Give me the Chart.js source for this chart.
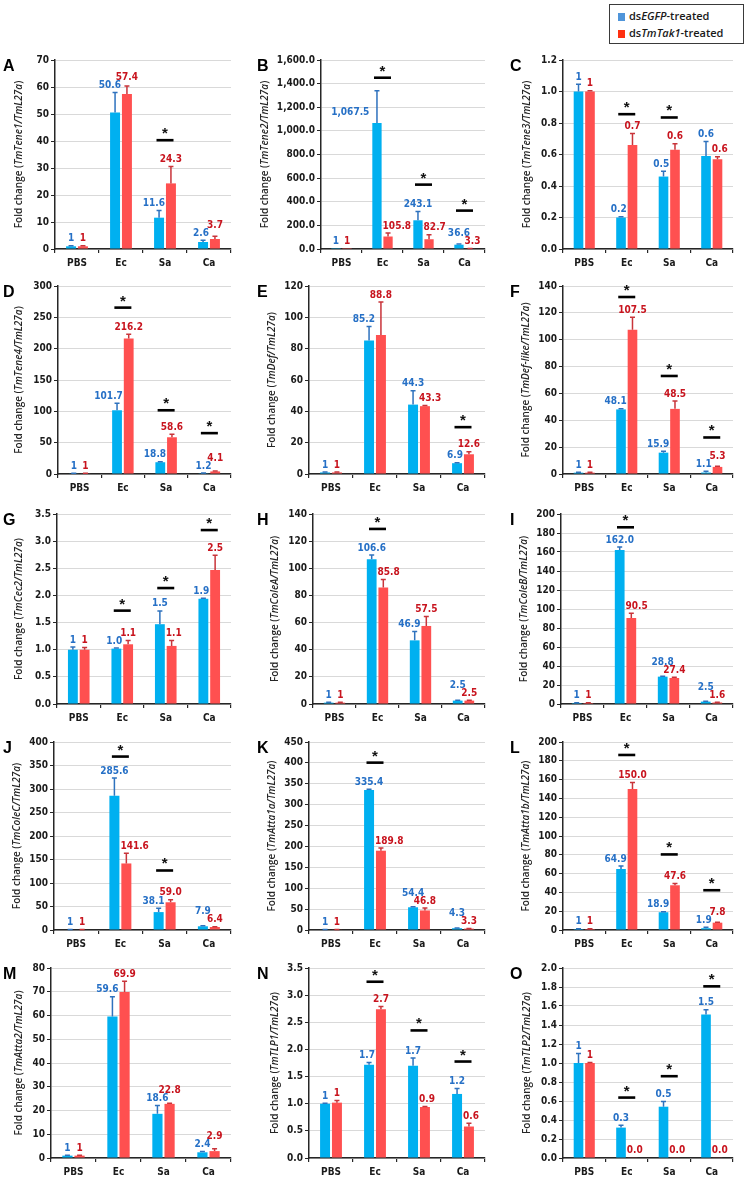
<!DOCTYPE html>
<html>
<head>
<meta charset="utf-8">
<script src="https://cdn.jsdelivr.net/npm/chart.js@4.4.1/dist/chart.umd.min.js"></script>
<style>
    body { margin: 0; background: #fff; }
    #fig { position: relative; width: 745px; height: 1181px; overflow: hidden; background: #fff; }
    #fig canvas { position: absolute; }
    #legend {
        position: absolute; left: 609px; top: 4px; width: 133px; height: 38px;
        border: 1px solid #3a3a3a; background: #fff;
        font-family: 'Open Sans', sans-serif; font-weight: 600; font-size: 11px; color: #1a1a1a;
    }
    #legend .item { position: absolute; left: 8px; height: 14px; line-height: 14px; white-space: nowrap; }
    #legend .sw { display: inline-block; width: 7px; height: 8px; margin-right: 4px; vertical-align: -1px; }
</style>
</head>
<body>
<div id="fig">
    <div id="legend">
        <div class="item" style="top:4px"><span class="sw" style="background:#4F95DA"></span>ds<i>EGFP</i>-treated</div>
        <div class="item" style="top:21px"><span class="sw" style="background:#FF3010"></span>ds<i>TmTak1</i>-treated</div>
    </div>
</div>
<script>
/* ── Data ─────────────────────────────────────────────────── */
const CATEGORIES = ['PBS', 'Ec', 'Sa', 'Ca'];

// [min, max, step] of each y axis
const A_AXIS = [0, 70, 10];
const A_EGFP = [1, 50.6, 11.6, 2.6];
const A_EGFP_ERR = [0.2, 7.4, 2.7, 0.6];
const A_TAK1 = [1, 57.4, 24.3, 3.7];
const A_TAK1_ERR = [0.2, 3.0, 6.3, 1.0];
const A_SIG = [null, null, 40.3, null];

const B_AXIS = [0, 1600, 200];
const B_EGFP = [1, 1067.5, 243.1, 36.6];
const B_EGFP_ERR = [0, 273, 75, 6];
const B_TAK1 = [1, 105.8, 82.7, 3.3];
const B_TAK1_ERR = [0, 29, 38, 1];
const B_SIG = [null, 1450, 545, 325];

const C_AXIS = [0, 1.2, 0.2];
const C_EGFP = [1, 0.2, 0.46, 0.59];
const C_EGFP_ERR = [0.046, 0.004, 0.034, 0.093];
const C_TAK1 = [1, 0.66, 0.63, 0.57];
const C_TAK1_ERR = [0.004, 0.074, 0.038, 0.016];
const C_SIG = [null, 0.856, 0.835, null];

const D_AXIS = [0, 300, 50];
const D_EGFP = [1, 101.7, 18.8, 1.2];
const D_EGFP_ERR = [0.3, 11, 0.8, 0.3];
const D_TAK1 = [1, 216.2, 58.6, 4.1];
const D_TAK1_ERR = [0.3, 7, 5, 0.5];
const D_SIG = [null, 265.5, 101.7, 65.2];

const E_AXIS = [0, 120, 20];
const E_EGFP = [1, 85.2, 44.3, 6.9];
const E_EGFP_ERR = [0.2, 8.9, 8.9, 0.3];
const E_TAK1 = [1, 88.8, 43.3, 12.6];
const E_TAK1_ERR = [0.3, 21, 0.5, 1.6];
const E_SIG = [null, null, null, 29.9];

const F_AXIS = [0, 140, 20];
const F_EGFP = [1, 48.1, 15.9, 1.1];
const F_EGFP_ERR = [0.3, 0.5, 1, 1];
const F_TAK1 = [1, 107.5, 48.5, 5.3];
const F_TAK1_ERR = [0.3, 9.2, 5.9, 0.4];
const F_SIG = [null, 131.8, 73, 27.2];

const G_AXIS = [0, 3.5, 0.5];
const G_EGFP = [1, 1.02, 1.47, 1.94];
const G_EGFP_ERR = [0.05, 0.01, 0.245, 0.01];
const G_TAK1 = [1, 1.1, 1.07, 2.47];
const G_TAK1_ERR = [0.04, 0.07, 0.1, 0.27];
const G_SIG = [null, 1.72, 2.136, 3.204];

const H_AXIS = [0, 140, 20];
const H_EGFP = [1, 106.6, 46.9, 2.5];
const H_EGFP_ERR = [0.3, 3.1, 6.6, 0.3];
const H_TAK1 = [1, 85.8, 57.5, 2.5];
const H_TAK1_ERR = [0.3, 6, 7, 0.3];
const H_SIG = [null, 129, null, null];

const I_AXIS = [0, 200, 20];
const I_EGFP = [1, 162.0, 28.8, 2.5];
const I_EGFP_ERR = [0.3, 3.3, 0.5, 0.5];
const I_TAK1 = [1, 90.5, 27.4, 1.6];
const I_TAK1_ERR = [0.3, 5, 0.8, 0.3];
const I_SIG = [null, 186, null, null];

const J_AXIS = [0, 400, 50];
const J_EGFP = [1, 285.6, 38.1, 7.9];
const J_EGFP_ERR = [0.3, 37.6, 8, 1];
const J_TAK1 = [1, 141.6, 59.0, 6.4];
const J_TAK1_ERR = [0.3, 21.8, 5.4, 0.5];
const J_SIG = [null, 369, 126.6, null];

const K_AXIS = [0, 450, 50];
const K_EGFP = [1, 335.4, 54.4, 4.3];
const K_EGFP_ERR = [0.3, 1.5, 1, 0.5];
const K_TAK1 = [1, 189.8, 46.8, 3.3];
const K_TAK1_ERR = [0.3, 6.5, 5.7, 0.5];
const K_SIG = [null, 400.6, null, null];

const L_AXIS = [0, 200, 20];
const L_EGFP = [1, 64.9, 18.9, 1.9];
const L_EGFP_ERR = [0.3, 3.2, 0.5, 1];
const L_TAK1 = [1, 150.0, 47.6, 7.8];
const L_TAK1_ERR = [0.3, 7, 2, 0.5];
const L_SIG = [null, 186.2, 80.4, 42.3];

const M_AXIS = [0, 80, 10];
const M_EGFP = [1, 59.6, 18.6, 2.4];
const M_EGFP_ERR = [0.2, 8.3, 3.5, 0.3];
const M_TAK1 = [1, 69.9, 22.8, 2.9];
const M_TAK1_ERR = [0.2, 4.5, 0.3, 1];
const M_SIG = [null, null, null, null];

const N_AXIS = [0, 3.5, 0.5];
const N_EGFP = [1, 1.72, 1.7, 1.18];
const N_EGFP_ERR = [0.01, 0.04, 0.14, 0.1];
const N_TAK1 = [1.02, 2.74, 0.94, 0.58];
const N_TAK1_ERR = [0.04, 0.05, 0.01, 0.06];
const N_SIG = [null, 3.247, 2.35, 1.777];

const O_AXIS = [0, 2.0, 0.2];
const O_EGFP = [1, 0.32, 0.54, 1.51];
const O_EGFP_ERR = [0.1, 0.025, 0.055, 0.05];
const O_TAK1 = [1, 0.004, 0.004, 0.004];
const O_TAK1_ERR = [0.005, 0, 0, 0];
const O_SIG = [null, 0.636, 0.861, 1.807];

const PANELS = [
    { id: 'A', gene: 'Tene1',    fmt: 'int',  axis: A_AXIS, egfp: A_EGFP, egfpErr: A_EGFP_ERR, tak: A_TAK1, takErr: A_TAK1_ERR, sig: A_SIG },
    { id: 'B', gene: 'Tene2',    fmt: 'thou', axis: B_AXIS, egfp: B_EGFP, egfpErr: B_EGFP_ERR, tak: B_TAK1, takErr: B_TAK1_ERR, sig: B_SIG },
    { id: 'C', gene: 'Tene3',    fmt: 'dec',  axis: C_AXIS, egfp: C_EGFP, egfpErr: C_EGFP_ERR, tak: C_TAK1, takErr: C_TAK1_ERR, sig: C_SIG },
    { id: 'D', gene: 'Tene4',    fmt: 'int',  axis: D_AXIS, egfp: D_EGFP, egfpErr: D_EGFP_ERR, tak: D_TAK1, takErr: D_TAK1_ERR, sig: D_SIG },
    { id: 'E', gene: 'Def',      fmt: 'int',  axis: E_AXIS, egfp: E_EGFP, egfpErr: E_EGFP_ERR, tak: E_TAK1, takErr: E_TAK1_ERR, sig: E_SIG },
    { id: 'F', gene: 'Def-like', fmt: 'int',  axis: F_AXIS, egfp: F_EGFP, egfpErr: F_EGFP_ERR, tak: F_TAK1, takErr: F_TAK1_ERR, sig: F_SIG },
    { id: 'G', gene: 'Cec2',     fmt: 'dec',  axis: G_AXIS, egfp: G_EGFP, egfpErr: G_EGFP_ERR, tak: G_TAK1, takErr: G_TAK1_ERR, sig: G_SIG },
    { id: 'H', gene: 'ColeA',    fmt: 'int',  axis: H_AXIS, egfp: H_EGFP, egfpErr: H_EGFP_ERR, tak: H_TAK1, takErr: H_TAK1_ERR, sig: H_SIG },
    { id: 'I', gene: 'ColeB',    fmt: 'int',  axis: I_AXIS, egfp: I_EGFP, egfpErr: I_EGFP_ERR, tak: I_TAK1, takErr: I_TAK1_ERR, sig: I_SIG },
    { id: 'J', gene: 'ColeC',    fmt: 'int',  axis: J_AXIS, egfp: J_EGFP, egfpErr: J_EGFP_ERR, tak: J_TAK1, takErr: J_TAK1_ERR, sig: J_SIG },
    { id: 'K', gene: 'Atta1a',   fmt: 'int',  axis: K_AXIS, egfp: K_EGFP, egfpErr: K_EGFP_ERR, tak: K_TAK1, takErr: K_TAK1_ERR, sig: K_SIG },
    { id: 'L', gene: 'Atta1b',   fmt: 'int',  axis: L_AXIS, egfp: L_EGFP, egfpErr: L_EGFP_ERR, tak: L_TAK1, takErr: L_TAK1_ERR, sig: L_SIG },
    { id: 'M', gene: 'Atta2',    fmt: 'int',  axis: M_AXIS, egfp: M_EGFP, egfpErr: M_EGFP_ERR, tak: M_TAK1, takErr: M_TAK1_ERR, sig: M_SIG },
    { id: 'N', gene: 'TLP1',     fmt: 'dec',  axis: N_AXIS, egfp: N_EGFP, egfpErr: N_EGFP_ERR, tak: N_TAK1, takErr: N_TAK1_ERR, sig: N_SIG },
    { id: 'O', gene: 'TLP2',     fmt: 'dec',  axis: O_AXIS, egfp: O_EGFP, egfpErr: O_EGFP_ERR, tak: O_TAK1, takErr: O_TAK1_ERR, sig: O_SIG },
];

/* ── Layout & style ───────────────────────────────────────── */
const ROW_TOP    = [60, 286, 514, 742, 968];
const ROW_ZERO   = [249, 474, 704, 930, 1158];
const COL_LEFT   = [0, 243, 498];
const COL_WIDTH  = [238, 250, 247];
const PLOT_RIGHT = [231, 485, 733];
const TITLE_X    = [19, 275, 527];
const LETTER_X   = [3, 257, 510];
const AXIS_X     = { A: 55, B: 321, C: 563, D: 58, E: 309, F: 563, G: 57, H: 313, I: 561,
                     J: 54, K: 309, L: 563, M: 51, N: 309, O: 563 };
const PAD_TOP  = 14;
const X_AXIS_H = 22;
const TICK_LEN = 4;
const TICK_PAD = 2;

const BLUE      = '#00B0F0';
const RED       = '#FF5050';
const BLUE_ERR  = '#2E72BE';
const RED_ERR   = '#C9343A';
const BLUE_TEXT = '#2670C6';
const RED_TEXT  = '#C8141E';
const AXIS_COL  = '#262626';
const GRID_COL  = '#D9D9D9';

const NARROW    = "'DejaVu Sans Condensed', 'Liberation Sans Narrow', 'Liberation Sans', sans-serif";
const TICK_FONT = { family: NARROW, size: 10, weight: 'bold' };
const LABEL_PX  = 10;

function tickText(v, fmt) {
    if (fmt === 'thou') return v.toLocaleString('en-US', { minimumFractionDigits: 1, maximumFractionDigits: 1 });
    if (fmt === 'dec') return v.toFixed(1);
    return String(Math.round(v));
}

function valueText(v, i) {
    if (i === 0) return '1';
    return v.toLocaleString('en-US', { minimumFractionDigits: 1, maximumFractionDigits: 1 });
}

/* ── Plugin: error bars, value labels, significance, titles ─ */
const decor = {
    id: 'decor',
    afterDatasetsDraw(chart, args, o) {
        const { ctx, chartArea, scales: { x, y } } = chart;
        const p = o.panel;
        const series = [
            { vals: p.egfp, errs: p.egfpErr, line: BLUE_ERR, text: BLUE_TEXT },
            { vals: p.tak,  errs: p.takErr,  line: RED_ERR,  text: RED_TEXT },
        ];
        const metas = [chart.getDatasetMeta(0), chart.getDatasetMeta(1)];
        ctx.save();

        // error bars (upper whisker only)
        series.forEach((s, di) => {
            metas[di].data.forEach((bar, i) => {
                if (!s.errs[i]) return;
                const y0 = y.getPixelForValue(s.vals[i]);
                const y1 = y.getPixelForValue(s.vals[i] + s.errs[i]);
                ctx.strokeStyle = s.line;
                ctx.lineWidth = 1.5;
                ctx.beginPath();
                ctx.moveTo(bar.x, y0);
                ctx.lineTo(bar.x, y1);
                ctx.moveTo(bar.x - 2.5, y1);
                ctx.lineTo(bar.x + 2.5, y1);
                ctx.stroke();
            });
        });

        // value labels
        ctx.font = `bold ${LABEL_PX}px ${NARROW}`;
        ctx.textAlign = 'center';
        ctx.textBaseline = 'bottom';
        const LH = 7;
        CATEGORIES.forEach((c, i) => {
            const labs = series.map((s, di) => {
                const bar = metas[di].data[i];
                const txt = valueText(s.vals[i], i);
                const w = ctx.measureText(txt).width;
                const top = y.getPixelForValue(s.vals[i] + s.errs[i]);
                return { txt, w, x0: bar.x, cx: bar.x, bottom: top - 3, half: bar.width / 2,
                         top, barTop: y.getPixelForValue(s.vals[i]), color: s.text };
            });
            const [b, r] = labs;
            // keep the blue label off the red bar and vice versa
            if (b.cx + b.w / 2 > r.x0 - r.half - 1 && b.bottom > r.top) b.cx = r.x0 - r.half - 1 - b.w / 2;
            if (r.cx - r.w / 2 < b.x0 + b.half + 1 && r.bottom > b.top) r.cx = b.x0 + b.half + 1 + r.w / 2;
            // a label running into the significance mark goes beside its bar
            if (p.sig[i] != null) {
                const sy = y.getPixelForValue(p.sig[i]);
                labs.forEach((l, di) => {
                    if (l.bottom - LH < sy + 4 && l.bottom > sy - 16) {
                        l.cx = di === 0 ? l.x0 - l.half - 3 - l.w / 2 : l.x0 + l.half + 3 + l.w / 2;
                        l.bottom = l.barTop - 6;
                    }
                });
            }
            // labels overlapping each other: lift the higher one
            const hOverlap = (b.cx + b.w / 2) > (r.cx - r.w / 2) + 0.5;
            if (hOverlap && Math.abs(b.bottom - r.bottom) < LH + 1) {
                if (b.bottom <= r.bottom) b.bottom = r.bottom - LH - 1;
                else r.bottom = b.bottom - LH - 1;
            }
            labs.forEach(l => {
                ctx.fillStyle = l.color;
                ctx.fillText(l.txt, l.cx, l.bottom + 1);
            });
        });

        // significance bars and asterisks
        p.sig.forEach((v, i) => {
            if (v == null) return;
            const cx = x.getPixelForValue(i);
            const ly = y.getPixelForValue(v);
            ctx.strokeStyle = '#000';
            ctx.lineWidth = 2.6;
            ctx.beginPath();
            ctx.moveTo(cx - 8.5, ly);
            ctx.lineTo(cx + 8.5, ly);
            ctx.stroke();
            ctx.fillStyle = '#111';
            ctx.font = "bold 15px 'Liberation Sans', sans-serif";
            ctx.textBaseline = 'alphabetic';
            ctx.fillText('*', cx, ly - 2);
        });

        // panel letter
        ctx.fillStyle = '#000';
        ctx.font = "bold 16px 'Liberation Sans', sans-serif";
        ctx.textAlign = 'left';
        ctx.textBaseline = 'middle';
        ctx.fillText(p.id, o.letterX, chartArea.top + 7);

        // rotated y title with italic gene names, kept clear of wide tick labels
        ctx.font = `bold ${TICK_FONT.size}px ${NARROW}`;
        const widest = Math.max(...y.ticks.map(t => ctx.measureText(tickText(t.value, p.fmt)).width));
        const labelLeft = chartArea.left - TICK_LEN - TICK_PAD - widest;
        const titleX = Math.min(o.titleX, labelLeft - 12);
        const parts = [
            ['Fold change (', 'normal'],
            ['Tm' + p.gene + '/TmL27a', 'italic'],
            [')', 'normal'],
        ];
        const fontOf = st => `${st} 600 10px 'Open Sans', sans-serif`;
        let total = 0;
        parts.forEach(pt => { ctx.font = fontOf(pt[1]); total += ctx.measureText(pt[0]).width; });
        ctx.translate(titleX, (chartArea.top + chartArea.bottom) / 2);
        ctx.rotate(-Math.PI / 2);
        ctx.fillStyle = '#262626';
        ctx.textBaseline = 'middle';
        let cur = -total / 2;
        parts.forEach(pt => {
            ctx.font = fontOf(pt[1]);
            ctx.fillText(pt[0], cur, 0);
            cur += ctx.measureText(pt[0]).width;
        });
        ctx.restore();
    },
};

/* ── Build the 15 panels ──────────────────────────────────── */
const fig = document.getElementById('fig');

PANELS.forEach((p, k) => {
    const row = Math.floor(k / 3);
    const col = k % 3;
    const left = COL_LEFT[col];
    const width = COL_WIDTH[col];
    const top = ROW_TOP[row] - PAD_TOP;
    const height = PAD_TOP + (ROW_ZERO[row] - ROW_TOP[row]) + X_AXIS_H;
    const yWidth = AXIS_X[p.id] - left;

    const cv = document.createElement('canvas');
    cv.width = width;
    cv.height = height;
    cv.style.left = left + 'px';
    cv.style.top = top + 'px';
    cv.style.width = width + 'px';
    cv.style.height = height + 'px';
    fig.appendChild(cv);

    new Chart(cv, {
        type : 'bar',
        data : {
            labels   : CATEGORIES,
            datasets : [
                { label: 'dsEGFP-treated',   data: p.egfp, backgroundColor: BLUE, borderWidth: 0 },
                { label: 'dsTmTak1-treated', data: p.tak,  backgroundColor: RED,  borderWidth: 0 },
            ],
        },
        options : {
            responsive : false,
            animation  : false,
            devicePixelRatio : 1,
            layout : { padding: { top: PAD_TOP, left: 0, bottom: 0, right: width - (PLOT_RIGHT[col] - left) } },
            datasets : { bar: { categoryPercentage: 0.54, barPercentage: 0.84 } },
            plugins : {
                legend  : { display: false },
                tooltip : { enabled: false },
                decor   : { panel: p, titleX: TITLE_X[col] - left, letterX: LETTER_X[col] - left },
            },
            scales : {
                x : {
                    grid   : { display: true, drawOnChartArea: false, offset: true, color: AXIS_COL, tickLength: TICK_LEN, lineWidth: 1.2 },
                    border : { color: AXIS_COL, width: 1.5 },
                    ticks  : { color: '#1a1a1a', font: TICK_FONT, padding: 4, maxRotation: 0, autoSkip: false },
                    afterFit : s => { s.height = X_AXIS_H; },
                },
                y : {
                    min   : p.axis[0],
                    max   : p.axis[1],
                    ticks : {
                        stepSize : p.axis[2],
                        color    : '#1a1a1a',
                        font     : TICK_FONT,
                        padding  : TICK_PAD,
                        callback : v => tickText(v, p.fmt),
                    },
                    grid   : { color: GRID_COL, tickColor: AXIS_COL, tickLength: TICK_LEN, lineWidth: 1 },
                    border : { color: AXIS_COL, width: 1.5 },
                    afterFit : s => { s.width = yWidth; },
                },
            },
        },
        plugins : [decor],
    });
});
</script>
</body>
</html>
